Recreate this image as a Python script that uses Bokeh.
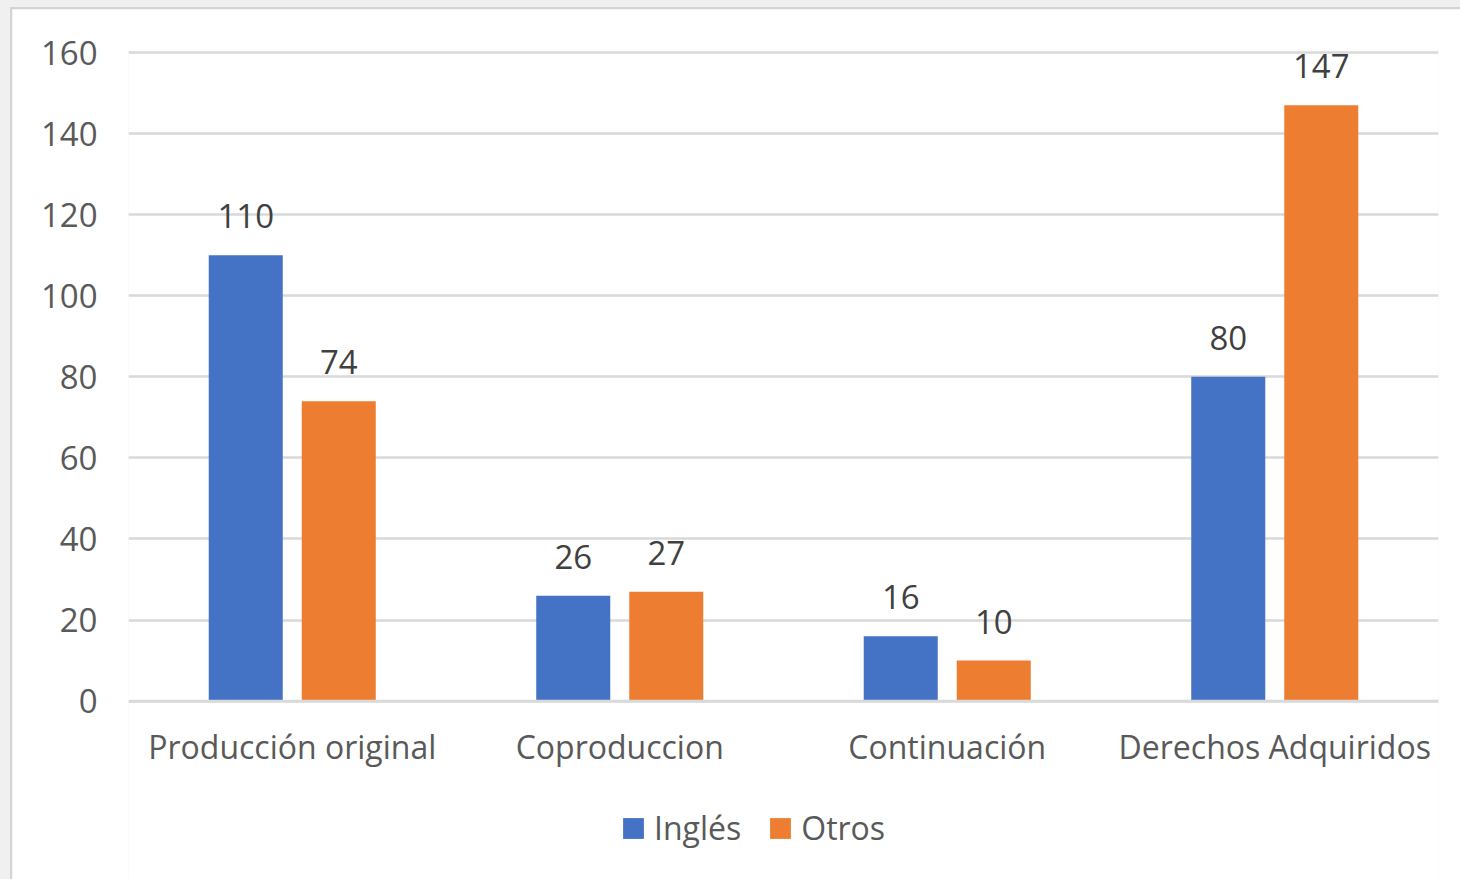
from bokeh.plotting import figure
from bokeh.models import (ColumnDataSource, FactorRange, Range1d, Legend, LegendItem,
                          FixedTicker, LabelSet, Span)
from bokeh.core.properties import value
from bokeh.transform import dodge
from bokeh.layouts import column
from bokeh.embed import file_html
from bokeh.resources import INLINE

# Data
categories = ["Producción original", "Coproduccion", "Continuación", "Derechos Adquiridos"]
ingles = [110, 26, 16, 80]
otros = [74, 27, 10, 147]
series_names = ["Inglés", "Otros"]
y_ticks = [0, 20, 40, 60, 80, 100, 120, 140, 160]

BLUE = "#4472C4"
ORANGE = "#ED7D31"
TEXT = "#595959"
GRID = "#d9d9d9"
FONT = "Open Sans"

source = ColumnDataSource(dict(
    cat=categories,
    ingles=ingles,
    otros=otros,
    ingles_lbl=[str(v) for v in ingles],
    otros_lbl=[str(v) for v in otros],
))

# the frame reaches down to the bottom edge so the category axis (pinned at 0)
# and the legend both live inside it
p = figure(
    frame_width=1308, frame_height=829,
    x_range=FactorRange(*categories, range_padding=0),
    y_range=Range1d(-44.5, 160.5),
    output_backend="svg",
    toolbar_location=None,
    min_border_left=116, min_border_right=24,
    min_border_top=41, min_border_bottom=0,
)
p.outline_line_color = None
p.background_fill_color = "white"
p.border_fill_color = "white"

off = 0.142
w = 0.226
r1 = p.vbar(x=dodge("cat", -off, range=p.x_range), top="ingles", width=w,
            source=source, fill_color=BLUE, line_color=None)
r2 = p.vbar(x=dodge("cat", off, range=p.x_range), top="otros", width=w,
            source=source, fill_color=ORANGE, line_color=None)

# baseline drawn over the bars
p.add_layout(Span(location=0, dimension="width", line_color=GRID, line_width=2.5))

# value labels above each bar
for col, dx in (("ingles", -off), ("otros", off)):
    lbl = LabelSet(x=dodge("cat", dx, range=p.x_range), y=col, text=col + "_lbl",
                   source=source, text_align="center", text_baseline="middle",
                   y_offset=39, text_font=value(FONT), text_font_size=value("33px"),
                   text_color="#404040")
    p.add_layout(lbl)

# axes
p.yaxis.ticker = FixedTicker(ticks=y_ticks)
p.yaxis.axis_line_color = None
p.yaxis.major_tick_line_color = None
p.yaxis.minor_tick_line_color = None
p.yaxis.major_label_standoff = 25
p.yaxis.major_label_text_font = FONT
p.yaxis.major_label_text_font_size = "33px"
p.yaxis.major_label_text_color = TEXT

p.xaxis.fixed_location = 0
p.xaxis.axis_line_color = None
p.xaxis.major_tick_line_color = None
p.xaxis.major_label_standoff = 18
p.xaxis.major_label_text_font = FONT
p.xaxis.major_label_text_font_size = "32px"
p.xaxis.major_label_text_color = TEXT

p.xgrid.grid_line_color = None
p.ygrid.ticker = FixedTicker(ticks=y_ticks)
p.ygrid.grid_line_color = GRID
p.ygrid.grid_line_width = 2.5

legend = Legend(
    items=[LegendItem(label=series_names[0], renderers=[r1]),
           LegendItem(label=series_names[1], renderers=[r2])],
    orientation="horizontal", location=(492, 32),
    border_line_color=None, background_fill_alpha=0,
    glyph_width=26, glyph_height=26, label_standoff=8, spacing=26,
    label_text_font=FONT, label_text_font_size="32px", label_text_color=TEXT,
    margin=0, padding=10,
)
p.add_layout(legend, "center")

page = column(p, styles={"background-color": "#f0f0f0", "padding-top": "7px",
                         "padding-left": "10px"})
p.styles = {"border-top": "2px solid #d4d4d4", "border-left": "2px solid #d4d4d4"}

open("out.html", "w").write(file_html(page, INLINE))
